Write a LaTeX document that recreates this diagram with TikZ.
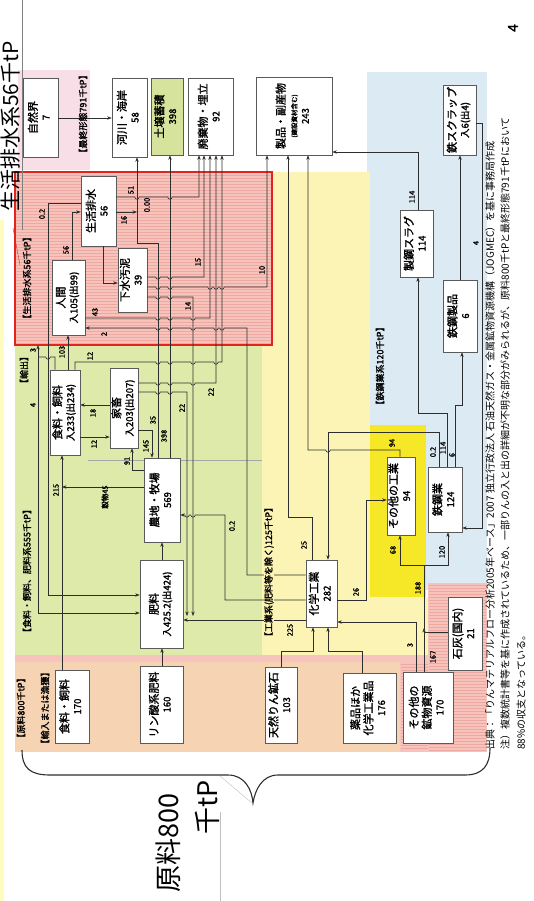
\documentclass[tikz,border=0pt]{standalone}
\usepackage{fontspec}
\setmainfont{Noto Sans CJK JP}[AutoFakeBold=1.6]
\usepackage{graphicx}
\usetikzlibrary{arrows.meta}

\definecolor{flow}{HTML}{2E2E2E}
\definecolor{boxline}{HTML}{5A5A5A}
\definecolor{redarea}{HTML}{F6C4BC}
\definecolor{redstripe}{HTML}{EFA89F}
\definecolor{redframe}{HTML}{E3231F}
\definecolor{greenarea}{HTML}{DEEAAA}
\definecolor{yellowarea}{HTML}{FBF4B4}
\definecolor{yellowhot}{HTML}{F6E827}
\definecolor{bluearea}{HTML}{DCEAF4}
\definecolor{peacharea}{HTML}{F6D3B3}
\definecolor{pinkdot}{HTML}{F8DEE7}
\definecolor{soil}{HTML}{D6E39C}

\tikzstyle{box} = [rectangle, draw=boxline, fill=white, line width=0.6pt, inner sep=0pt]
\tikzstyle{flowline} = [draw=flow, line width=0.6pt]
\tikzstyle{arrow} = [flowline, ->, >={Stealth[length=4.5pt,width=3.4pt]}]
\tikzstyle{num} = [rotate=90, inner sep=0.3pt, font=\fontsize{7.5}{8}\selectfont\bfseries]
\tikzstyle{area} = [rotate=90, inner sep=0.6pt, font=\fontsize{9}{10}\selectfont\bfseries]
\tikzstyle{stripe} = [redstripe, line width=0.5pt]
\tikzstyle{foot} = [rotate=90, anchor=west, inner sep=0pt, font=\fontsize{10}{11}\selectfont]

% box text, turned to read upwards
\newcommand{\boxtext}[2]{\rotatebox{90}{\fontsize{11}{12.5}\selectfont\bfseries\begin{tabular}{@{}c@{}}#1\\ \fontsize{9.5}{10.5}\selectfont #2\end{tabular}}}
% line jumps
\newcommand{\jumpr}[2]{-- ({#1-2.2},#2) arc[start angle=180,end angle=0,radius=2.2]}
\newcommand{\jumpl}[2]{-- ({#1+2.2},#2) arc[start angle=0,end angle=180,radius=2.2]}

\begin{document}
\begin{tikzpicture}[x=1pt, y=-1pt]
  \useasboundingbox (0,0) rectangle (533,901);
  \clip (0,0) rectangle (533,901);

  % areas
  \fill[yellow!25] (0,220) rectangle (4,901);
  \fill[pinkdot] (18,70) rectangle (90,170);
  \fill[bluearea] (367,72) rectangle (487,590);
  \fill[yellowarea] (262,172) rectangle (370,662);
  \fill[yellowhot] (370,425) rectangle (426,597);
  \fill[yellowarea] (370,597) rectangle (428,662);
  \fill[greenarea] (15,345) rectangle (262,655);
  \fill[redarea] (15,172) rectangle (272,345);
  \foreach \yy in {175,178,...,343} \draw[stripe] (16,\yy) -- (271,\yy);
  \draw[redframe, line width=1.3pt] (15,172) rectangle (272,345);
  \fill[peacharea] (15,655) rectangle (487,752);
  \fill[redarea] (428,583) rectangle (487,752);
  \fill[redarea] (400,662) rectangle (428,752);
  \fill[redarea] (15,655) rectangle (487,662);
  \foreach \yy in {585,588,...,750} \draw[stripe] (429,\yy) -- (486,\yy);
  \foreach \yy in {664,667,...,750} \draw[stripe] (401,\yy) -- (428,\yy);
  \draw[gray!70, line width=0.5pt] (88,460) -- (262,460);

  % title
  \draw[gray, line width=0.4pt] (22,0) -- (22,230);
  \draw[redframe, line width=0.4pt] (13,228) -- (20,265);
  \node[rotate=90, anchor=west, inner sep=0pt, font=\fontsize{21}{21}\selectfont] (title) at (11,212) {生活排水系56千tP};
  \node[rotate=90, font=\fontsize{14}{14}\selectfont\bfseries] (page) at (513,28) {4};

  % final forms
  \node[box, minimum width=35pt, minimum height=79pt] (shizen) at (40.5,117.5) {\boxtext{自然界}{7}};
  \node[box, minimum width=35pt, minimum height=79pt] (kasen) at (129.5,117.5) {\boxtext{河川・海岸}{58}};
  \node[box, fill=soil, minimum width=32pt, minimum height=77pt] (dojo) at (167,116.5) {\boxtext{土壌蓄積}{398}};
  \node[box, minimum width=45pt, minimum height=77pt] (haiki) at (210.5,116.5) {\boxtext{廃棄物・埋立}{92}};
  \node[box, minimum width=76pt, minimum height=78pt] (seihin) at (294,116) {\rotatebox{90}{\bfseries\begin{tabular}{@{}c@{}}\fontsize{11}{12.5}\selectfont 製品・副産物\\ \fontsize{6.5}{8}\selectfont (建設資材含む)\\ \fontsize{9.5}{10.5}\selectfont 243\end{tabular}}};
  \node[box, minimum width=33pt, minimum height=70pt] (scrap) at (459.5,120) {\boxtext{鉄スクラップ}{入6(出4)}};

  % household
  \node[box, minimum width=35pt, minimum height=70pt] (seikatsu) at (98.5,211) {\boxtext{生活排水}{56}};
  \node[box, minimum width=29pt, minimum height=64pt] (gesui) at (132.5,280) {\boxtext{下水汚泥}{39}};
  \node[box, minimum width=33pt, minimum height=75pt] (ningen) at (68.5,297.5) {\boxtext{人間}{入105(出99)}};

  % food, feed, fertiliser
  \node[box, minimum width=30pt, minimum height=85pt] (shokuhin) at (65,412.5) {\boxtext{食料・飼料}{入233(出234)}};
  \node[box, minimum width=28pt, minimum height=80pt] (kachiku) at (124,408) {\boxtext{家畜}{入203(出207)}};
  \node[box, minimum width=36pt, minimum height=84pt] (nochi) at (162,500) {\boxtext{農地・牧場}{569}};
  \node[box, minimum width=43pt, minimum height=88pt] (hiryo) at (161.5,604) {\boxtext{肥料}{入425.2(出424)}};

  % industry, steel
  \node[box, minimum width=31pt, minimum height=67pt] (kagaku) at (321.5,593.5) {\boxtext{化学工業}{282}};
  \node[box, minimum width=28pt, minimum height=78pt] (sonota) at (401,496) {\boxtext{その他の工業}{94}};
  \node[box, minimum width=34pt, minimum height=65pt] (tekko) at (445,499.5) {\boxtext{鉄鋼業}{124}};
  \node[box, minimum width=33pt, minimum height=67pt] (slag) at (416.5,243.5) {\boxtext{製鋼スラグ}{114}};
  \node[box, minimum width=34pt, minimum height=72pt] (kouzai) at (460,316) {\boxtext{鉄鋼製品}{6}};
  \node[box, minimum width=34pt, minimum height=73pt] (sekkai) at (465,633.5) {\boxtext{石灰(国内)}{21}};

  % raw materials
  \node[box, minimum width=34pt, minimum height=73pt] (in_shoku) at (72,706.5) {\boxtext{食料・飼料}{170}};
  \node[box, minimum width=43pt, minimum height=77pt] (in_rin) at (161.5,704.5) {\boxtext{リン酸系肥料}{160}};
  \node[box, minimum width=32pt, minimum height=76pt] (in_kouseki) at (281,705) {\boxtext{天然りん鉱石}{103}};
  \node[box, minimum width=53pt, minimum height=70pt] (in_yakuhin) at (369.5,708) {\boxtext{薬品ほか\\化学工業品}{176}};
  \node[box, minimum width=50pt, minimum height=71pt] (in_kobutsu) at (428,707.5) {\boxtext{その他の\\鉱物資源}{170}};

  % flows to river and soil
  \draw[arrow] (shizen.east |- 0,118) -- (kasen.west |- 0,118);
  \draw[arrow] (nochi.north -| 158,0) -- (158,243) -- (137,243) -- (kasen.south -| 137,0);
  \draw[arrow] (seikatsu.east |- 0,212) -- (137,212);
  \draw[arrow] (nochi.north -| 170,0) -- (dojo.south -| 170,0);

  % flows to waste and products
  \draw[arrow] (seikatsu.east |- 0,197) \jumpr{137}{197} \jumpr{170}{197} -- (199,197) -- (haiki.south -| 199,0);
  \draw[arrow] (gesui.east |- 0,277) \jumpr{158}{277} \jumpr{170}{277} -- (204,277) -- (haiki.south -| 204,0);
  \draw[arrow] (gesui.east |- 0,287) \jumpr{158}{287} \jumpr{170}{287} \jumpr{210}{287} \jumpr{216}{287} \jumpr{222}{287} -- (267,287) -- (seihin.south -| 267,0);
  \draw[arrow] (gesui.east |- 0,297) \jumpr{158}{297} \jumpr{170}{297} -- (193,297) -- (193,616);
  \draw[arrow] (ningen.east |- 0,318) \jumpr{158}{318} \jumpr{170}{318} \jumpr{193}{318} -- (210,318) -- (haiki.south -| 210,0);
  \draw[arrow, <-] (ningen.east |- 0,328) \jumpr{158}{328} \jumpr{170}{328} \jumpr{193}{328} \jumpr{216}{328} \jumpr{222}{328} -- (247,328) -- (247,575) -- (kagaku.west |- 0,575);
  \draw[arrow] (shokuhin.north -| 75,0) -- (75,362) \jumpr{158}{362} \jumpr{170}{362} \jumpr{193}{362} \jumpr{216}{362} -- (222,362) -- (haiki.south -| 222,0);
  \draw[arrow] (kachiku.east |- 0,383) \jumpr{158}{383} \jumpr{170}{383} \jumpr{193}{383} -- (216,383) -- (haiki.south -| 216,0);
  \draw[arrow] (kachiku.east |- 0,392) \jumpr{158}{392} \jumpr{170}{392} -- (187,392) -- (187,616);
  \draw[arrow, <-] (nochi.east |- 0,515) \jumpr{187}{515} \jumpr{193}{515} -- (225,515) -- (225,600) -- (kagaku.west |- 0,600);
  \draw[arrow] (kagaku.west |- 0,620) -- (hiryo.east |- 0,620);

  % food, feed, fertiliser flows
  \draw[arrow] (hiryo.north -| 162,0) -- (nochi.south -| 162,0);
  \draw[arrow] (in_rin.north -| 162,0) -- (hiryo.south -| 162,0);
  \draw[arrow] (kachiku.east |- 0,430) -- (152,430) -- (nochi.north -| 152,0);
  \draw[arrow] (nochi.west |- 0,470) -- (132,470) -- (kachiku.south -| 132,0);
  \draw[arrow] (nochi.west |- 0,487) -- (62,487);
  \draw[arrow] (in_shoku.north -| 62,0) -- (shokuhin.south -| 62,0);
  \draw[arrow] (kachiku.west |- 0,405) -- (shokuhin.east |- 0,405);
  \draw[arrow] (shokuhin.east |- 0,437) -- (kachiku.west |- 0,437);
  \draw[arrow] (shokuhin.north -| 68,0) -- (ningen.south -| 68,0);
  \draw[arrow] (ningen.north -| 72,0) -- (72,212) -- (seikatsu.west |- 0,212);
  \draw[arrow] (seikatsu.west |- 0,203) -- (48,203) -- (48,595) -- (hiryo.west |- 0,595);
  \draw[flowline] (shokuhin.north -| 55,0) -- (55,357) \jumpl{48}{357} -- (38,357) coordinate (yushutsu);
  \draw[arrow] (yushutsu) -- (38,345);
  \draw[arrow] (yushutsu) -- (38,613) -- (hiryo.west |- 0,613);
  \draw[arrow] (seikatsu.south -| 103,0) -- (103,283) -- (gesui.west |- 0,283);

  % industry flows
  \draw[arrow] (kagaku.north -| 312,0) -- (312,517) -- (288,517) -- (seihin.south -| 288,0);
  \draw[arrow] (sonota.north -| 400,0) -- (400,450) \jumpl{328}{450} -- (308,450) -- (seihin.south -| 308,0);
  \draw[arrow] (tekko.north -| 439,0) -- (439,432) -- (328,432) -- (kagaku.north -| 328,0);
  \draw[arrow] (kagaku.east |- 0,600) -- (366,600) -- (366,500) -- (sonota.west |- 0,500);
  \draw[arrow] (in_kobutsu.north -| 416,0) -- (416,622) -- (kagaku.east |- 0,622);
  \draw[flowline] (in_kobutsu.north -| 424,0) -- (424,565) coordinate (kj);
  \draw[flowline] (sekkai.west |- 0,632) -- (424,632);
  \draw[arrow] (424,642) -- (424,628);
  \draw[arrow] (kj) -- (400,565) -- (sonota.south -| 400,0);
  \draw[arrow] (kj) -- (448,565) -- (tekko.south -| 448,0);
  \draw[arrow] (in_kouseki.north -| 281,0) -- (281,651) -- (313,651) -- (kagaku.south -| 313,0);
  \draw[arrow] (in_yakuhin.north -| 362,0) -- (362,651) -- (328,651) -- (kagaku.south -| 328,0);
  \draw[arrow] (tekko.north -| 447,0) -- (447,413) -- (418,413) -- (slag.south -| 418,0);
  \draw[arrow] (tekko.north -| 455,0) -- (455,405) -- (462,405) -- (kouzai.south -| 462,0);
  \draw[arrow] (slag.north -| 418,0) -- (418,152) -- (seihin.east |- 0,152);
  \draw[arrow] (kouzai.north -| 460,0) -- (scrap.south -| 460,0);
  \draw[arrow] (scrap.east |- 0,123) -- (482,123) -- (482,528) -- (tekko.east |- 0,528);

  % flow values
  \node[num] at (131,190) {51};
  \node[num] at (124,220) {16};
  \node[num] at (147,205) {0.00};
  \node[num] at (198,262) {15};
  \node[num] at (262,270) {10};
  \node[num] at (188,306) {14};
  \node[num] at (95,312) {43};
  \node[num] at (104,334) {2};
  \node[num] at (90,356) {12};
  \node[num] at (211,392) {22};
  \node[num] at (182,408) {22};
  \node[num] at (232,526) {0.2};
  \node[num] at (153,420) {35};
  \node[num] at (164,436) {398};
  \node[num] at (146,446) {145};
  \node[num] at (127,461) {91};
  \node[num] at (93,413) {18};
  \node[num] at (94,444) {12};
  \node[num] at (105,497) {穀物45};
  \node[num] at (56,490) {215};
  \node[num] at (62,352) {103};
  \node[num] at (66,250) {56};
  \node[num] at (42,214) {0.2};
  \node[num] at (33,350) {3};
  \node[num] at (33,405) {4};
  \node[num] at (304,545) {25};
  \node[num] at (392,443) {94};
  \node[num] at (433,452) {0.2};
  \node[num] at (443,448) {114};
  \node[num] at (452,455) {6};
  \node[num] at (356,592) {26};
  \node[num] at (290,630) {225};
  \node[num] at (410,645) {3};
  \node[num] at (433,657) {167};
  \node[num] at (418,588) {188};
  \node[num] at (393,550) {68};
  \node[num] at (442,552) {120};
  \node[num] at (476,243) {4};
  \node[num] at (412,197) {114};

  % area names
  \node[area] (l_final) at (83,114) {【最終形態791千tP】};
  \node[area] (l_house) at (27,278) {【生活排水系56千tP】};
  \node[area] (l_export) at (24,370) {【輸出】};
  \node[area] (l_food) at (27,571) {【食料・飼料、肥料系555千tP】};
  \node[area, fill=yellowarea] (l_ind) at (269,572) {【工業系(肥料等を除く)125千tP】};
  \node[area] (l_steel) at (380,366) {【鉄鋼業系120千tP】};
  \node[area] (l_raw) at (21,708) {【原料800千tP】};
  \node[area] (l_import) at (45,708) {【輸入または漁獲】};

  % brace and total
  \draw[flow, line width=1.1pt] (22,750) .. controls (22,768) and (30,775) .. (50,775) -- (228,775) .. controls (245,775) and (252,790) .. (253,803) .. controls (255,790) and (262,775) .. (278,775) -- (465,775) .. controls (483,775) and (490,765) .. (490,748);
  \draw[gray!50, line width=0.4pt] (220,776) -- (252,803);
  \draw[gray!50, line width=0.4pt] (220,812) -- (220,901);
  \node[rotate=90, anchor=east, inner sep=0pt, font=\fontsize{27}{27}\selectfont] (total1) at (168,793) {原料800};
  \node[rotate=90, anchor=east, inner sep=0pt, font=\fontsize{27}{27}\selectfont] (total2) at (207,780) {千tP};

  % notes
  \node[foot] (src) at (490,750) {出典：「りんマテリアルフロー分析2005年ベース」2007 独立行政法人 石油天然ガス・金属鉱物資源機構（JOGMEC）を基に事務局作成};
  \node[foot] (note1) at (505,750) {注）複数統計書等を基に作成されているため、一部りんの入と出の詳細が不明な部分がみられるが、原料800千tPと最終形態791千tPにおいて};
  \node[foot] (note2) at (521,750) {88\%の収支となっている。};
\end{tikzpicture}
\end{document}
